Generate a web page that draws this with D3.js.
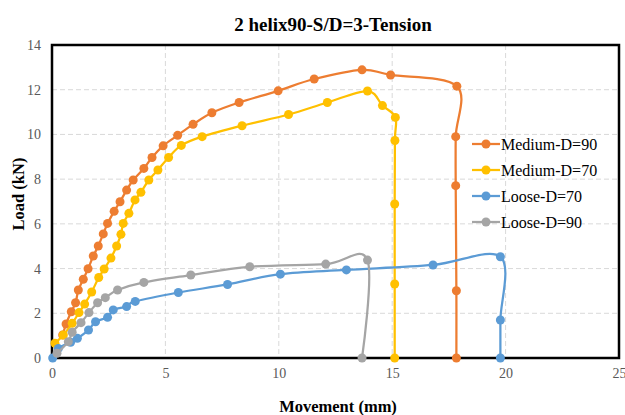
<!DOCTYPE html>
<html>
<head>
<meta charset="utf-8">
<script src="https://cdn.jsdelivr.net/npm/d3@7"></script>
<style>
body { margin: 0; background: #fff; }
text { font-family: "Liberation Serif", "Times New Roman", serif; }
</style>
</head>
<body>
<div id="chart-area"></div>
<script>
// series data (movement mm, load kN)
var seriesNames = ["Medium-D=90", "Medium-D=70", "Loose-D=70", "Loose-D=90"];
var seriesColors = ["#ED7D31", "#FFC000", "#5B9BD5", "#A5A5A5"];

var med90X = [0.47, 0.62, 0.85, 1.04, 1.16, 1.38, 1.59, 1.82, 2.04, 2.26, 2.45, 2.74, 3.0, 3.29, 3.58, 4.05, 4.41, 4.9, 5.54, 6.22, 7.05, 8.25, 9.97, 11.56, 13.67, 14.93, 17.85, 17.8, 17.8, 17.83, 17.83];
var med90Y = [1.03, 1.52, 2.07, 2.47, 3.04, 3.52, 3.99, 4.56, 5.01, 5.55, 6.02, 6.56, 6.99, 7.51, 7.96, 8.48, 8.97, 9.49, 9.96, 10.45, 10.97, 11.43, 11.95, 12.48, 12.89, 12.66, 12.16, 9.9, 7.71, 3.01, 0];

var med70X = [0.13, 0.5, 0.89, 1.19, 1.44, 1.75, 2.06, 2.3, 2.6, 2.85, 3.04, 3.14, 3.39, 3.66, 3.92, 4.27, 4.67, 5.14, 5.7, 6.62, 8.38, 10.43, 12.14, 13.91, 14.57, 15.14, 15.12, 15.11, 15.11, 15.11];
var med70Y = [0.66, 1.03, 1.55, 2.03, 2.41, 2.95, 3.6, 3.98, 4.47, 5.01, 5.53, 6.02, 6.47, 7.07, 7.41, 7.96, 8.41, 8.97, 9.51, 9.9, 10.39, 10.89, 11.43, 11.94, 11.29, 10.76, 9.73, 6.89, 3.31, 0];

var loose70X = [0.03, 0.28, 0.82, 1.12, 1.61, 1.92, 2.45, 2.7, 3.29, 3.67, 5.57, 7.74, 10.07, 12.98, 16.8, 19.77, 19.77, 19.77];
var loose70Y = [0, 0.43, 0.7, 0.88, 1.25, 1.62, 1.82, 2.15, 2.3, 2.53, 2.93, 3.29, 3.75, 3.94, 4.16, 4.53, 1.7, 0];

var loose90X = [0.22, 0.72, 0.89, 1.28, 1.63, 2.01, 2.35, 2.89, 4.05, 6.12, 8.72, 12.07, 13.91, 13.67];
var loose90Y = [0.21, 0.73, 1.15, 1.58, 2.03, 2.47, 2.7, 3.04, 3.38, 3.71, 4.08, 4.2, 4.38, 0];

var xTicks = [0, 5, 10, 15, 20, 25];
var yTicks = [0, 2, 4, 6, 8, 10, 12, 14];

var seriesX = [med90X, med70X, loose70X, loose90X];
var seriesY = [med90Y, med70Y, loose70Y, loose90Y];

var width = 625, height = 415;
var plot = {left: 52, right: 619, top: 45, bottom: 358};

var svg = d3.select("#chart-area").append("svg")
    .attr("width", width)
    .attr("height", height);

var x = d3.scaleLinear().domain([0, 25]).range([plot.left, plot.right]);
var y = d3.scaleLinear().domain([0, 14]).range([plot.bottom, plot.top]);

// gridlines
svg.append("g").selectAll("line.h")
    .data(yTicks.slice(1, -1))
    .enter().append("line")
    .attr("x1", plot.left).attr("x2", plot.right)
    .attr("y1", d => y(d)).attr("y2", d => y(d))
    .attr("stroke", "#D9D9D9").attr("stroke-width", 1)
    .attr("stroke-dasharray", "5,3");

svg.append("g").selectAll("line.v")
    .data(xTicks.slice(1, -1))
    .enter().append("line")
    .attr("y1", plot.top).attr("y2", plot.bottom)
    .attr("x1", d => x(d)).attr("x2", d => x(d))
    .attr("stroke", "#D9D9D9").attr("stroke-width", 1)
    .attr("stroke-dasharray", "5,3");

// plot border
svg.append("rect")
    .attr("x", plot.left).attr("y", plot.top)
    .attr("width", plot.right - plot.left)
    .attr("height", plot.bottom - plot.top)
    .attr("fill", "none")
    .attr("stroke", "#000").attr("stroke-width", 2.5);

// axes
var bottomAxis = d3.axisBottom(x).tickValues(xTicks).tickSize(0).tickPadding(10);
svg.append("g")
    .attr("transform", "translate(0," + plot.bottom + ")")
    .call(bottomAxis)
    .call(g => g.select(".domain").remove())
    .selectAll("text")
    .attr("font-size", "14px")
    .attr("font-family", "Liberation Serif")
    .attr("fill", "#595959");

var leftAxis = d3.axisLeft(y).tickValues(yTicks).tickSize(0).tickPadding(11);
svg.append("g")
    .attr("transform", "translate(" + plot.left + ",0)")
    .call(leftAxis)
    .call(g => g.select(".domain").remove())
    .selectAll("text")
    .attr("font-size", "14px")
    .attr("font-family", "Liberation Serif")
    .attr("fill", "#595959");

// series
var line = d3.line()
    .x(d => x(d[0]))
    .y(d => y(d[1]))
    .curve(d3.curveCardinal.tension(0));

seriesNames.forEach((name, i) => {
    var pts = seriesX[i].map((v, j) => [v, seriesY[i][j]]);
    var g = svg.append("g");
    g.append("path")
        .datum(pts)
        .attr("d", line)
        .attr("fill", "none")
        .attr("stroke", seriesColors[i])
        .attr("stroke-width", 2.25);
    g.selectAll("circle")
        .data(pts)
        .enter().append("circle")
        .attr("cx", d => x(d[0]))
        .attr("cy", d => y(d[1]))
        .attr("r", 4.5)
        .attr("fill", seriesColors[i]);
});

// legend
var legend = svg.append("g").attr("transform", "translate(472,144)");
seriesNames.forEach((name, i) => {
    var row = legend.append("g").attr("transform", "translate(0," + (i * 26) + ")");
    row.append("line")
        .attr("x1", 0).attr("x2", 28)
        .attr("stroke", seriesColors[i]).attr("stroke-width", 2.25);
    row.append("circle")
        .attr("cx", 14).attr("r", 4.5)
        .attr("fill", seriesColors[i]);
    row.append("text")
        .attr("x", 29).attr("y", 5.5)
        .attr("font-size", "16px")
        .attr("fill", "#000")
        .text(name);
});

// title and axis labels
svg.append("text")
    .attr("x", 333).attr("y", 31)
    .attr("text-anchor", "middle")
    .attr("font-size", "19px").attr("font-weight", "bold")
    .text("2 helix90-S/D=3-Tension");

svg.append("text")
    .attr("x", 338).attr("y", 412)
    .attr("text-anchor", "middle")
    .attr("font-size", "16.5px").attr("font-weight", "bold")
    .text("Movement (mm)");

svg.append("text")
    .attr("transform", "rotate(-90)")
    .attr("x", -194).attr("y", 24)
    .attr("text-anchor", "middle")
    .attr("font-size", "16.5px").attr("font-weight", "bold")
    .text("Load (kN)");
</script>
</body>
</html>
